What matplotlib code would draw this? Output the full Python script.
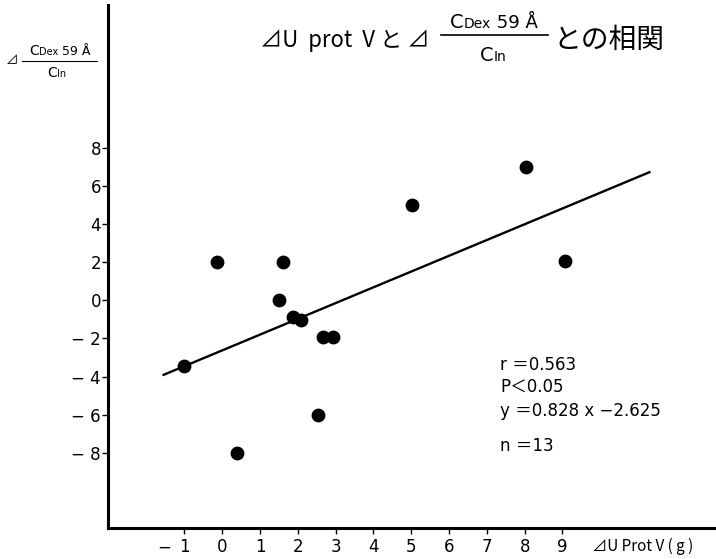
import matplotlib

matplotlib.use("Agg")
import matplotlib.pyplot as plt
from matplotlib.lines import Line2D
from matplotlib.transforms import IdentityTransform

plt.rcParams["font.family"] = ["Noto Sans CJK JP", "DejaVu Sans"]

# ── Data ───────────────────────────────────────────────────
prot_v = [-1.0, -0.13, 0.4, 1.5, 1.61, 1.88, 2.09, 2.53, 2.66, 2.92, 5.03, 8.03, 9.07]
cdex_ratio = [-3.45, 2.0, -8.0, 0.0, 2.0, -0.89, -1.03, -6.02, -1.91, -1.91, 5.01, 7.02, 2.09]

SLOPE = 0.828
INTERCEPT = -2.625
FIT_X = [-1.55, 11.3]

X_TICKS = [-1, 0, 1, 2, 3, 4, 5, 6, 7, 8, 9]
Y_TICKS = [-8, -6, -4, -2, 0, 2, 4, 6, 8]
Y_TICK_LABELS = ["− 8", "− 6", "− 4", "− 2", "0", "2", "4", "6", "8"]

STATS = ["r ＝0.563", "P＜0.05", "y ＝0.828 x −2.625", "n ＝13"]

W, H = 716, 559
fig = plt.figure(figsize=(W / 100, H / 100), dpi=100)
PX = IdentityTransform()

# axes box in pixels: left spine x=108, bottom spine y=528, top y=5
ax = fig.add_axes([108 / W, (H - 528) / H, (W - 108) / W, 523 / H])
ax.set_xlim(-3.02, 13.06)
ax.set_ylim(-11.95, 15.51)
for side in ("top", "right"):
    ax.spines[side].set_visible(False)
for side in ("left", "bottom"):
    ax.spines[side].set_linewidth(2.2)

ax.scatter(prot_v, cdex_ratio, s=80, color="black", zorder=3)
fit_y = [SLOPE * x + INTERCEPT for x in FIT_X]
ax.plot(FIT_X, fit_y, color="black", linewidth=1.7)

ax.set_xticks(X_TICKS)
ax.set_xticklabels([str(abs(t)) for t in X_TICKS], fontsize=12, family="DejaVu Sans")
ax.set_yticks(Y_TICKS)
ax.set_yticklabels(Y_TICK_LABELS, fontsize=12, family="DejaVu Sans")
ax.tick_params(axis="x", direction="out", length=4.5, width=1, pad=3)
ax.tick_params(axis="y", direction="out", length=4, width=1, pad=1)

# minus sign for the -1 tick label, hung left of the digit
ax.text(-1.35, -0.037, "−", transform=ax.get_xaxis_transform(), ha="right",
        va="center", fontsize=12, family="DejaVu Sans")

ax.text(9.77, -0.036, "⊿U Prot V ( g )", transform=ax.get_xaxis_transform(),
        ha="left", va="center", fontsize=11)

for line, base in zip(STATS, [370, 392, 416, 451]):
    fig.text(500, H - base, line, transform=PX, fontsize=12, va="baseline",
             ha="left", family=["DejaVu Sans", "Noto Sans CJK JP"])

renderer = fig.canvas.get_renderer()


def runs(cx, base, pieces):
    """Place text pieces side by side on one baseline, centred at cx (px from left)."""
    texts = []
    x = 0
    for s, size in pieces:
        t = fig.text(x, H - base, s, transform=PX, fontsize=size,
                     va="baseline", ha="left", family="DejaVu Sans")
        w = t.get_window_extent(renderer).width
        texts.append((t, x))
        x += w
    start = cx - x / 2
    for t, off in texts:
        t.set_x(start + off)


def hbar(x0, x1, y, lw=1.0):
    fig.add_artist(Line2D([x0, x1], [H - y, H - y], transform=PX,
                          color="black", linewidth=lw))


# ── title ──
fig.text(260, H - 47, "⊿U  prot  V と ⊿", transform=PX,
         fontsize=16, va="baseline", ha="left")
runs(494, 28, [("C", 14), ("Dex", 10), (" 59 Å", 13)])
hbar(441, 548, 35, 1.2)
runs(493, 61, [("C", 14), ("In", 10)])
fig.text(553, H - 48, "との相関", transform=PX,
         fontsize=20, va="baseline", ha="left")

# ── y label ──
fig.text(6, H - 64, "⊿", transform=PX, fontsize=9,
         va="baseline", ha="left")
runs(60, 55, [("C", 10), ("Dex", 7), (" 59 Å", 9)])
hbar(22, 97, 61, 0.8)
runs(57, 77, [("C", 10), ("In", 7)])

fig.savefig("out.png", dpi=100)
